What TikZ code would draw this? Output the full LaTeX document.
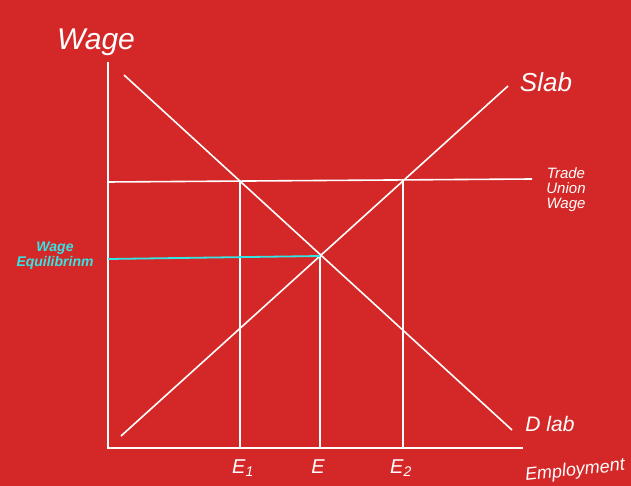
\documentclass[tikz,border=0pt]{standalone}
\usepackage{fontspec}
\setmainfont{Liberation Sans}
\definecolor{bg}{HTML}{D42828}
\definecolor{eqc}{HTML}{33E5E5}
\tikzset{
  wl/.style={draw=white, line width=1.6pt},
  cl/.style={draw=eqc, line width=1.8pt},
  lbl/.style={text=white, font=\itshape, inner sep=0pt},
}
\begin{document}
\begin{tikzpicture}[x=1pt,y=-1pt]
\fill[bg] (0,0) rectangle (631,486);
\useasboundingbox (0,0) rectangle (631,486);
% axes
\coordinate (ytop) at (108,62);
\coordinate (orig) at (108,448);
\coordinate (xend) at (523,448);
\draw[wl] (ytop) -- (orig) -- (xend);
% demand
\coordinate (d1) at (124,75);
\coordinate (d2) at (512,430);
\draw[wl] (d1) -- (d2);
% supply
\coordinate (s1) at (121,436);
\coordinate (s2) at (508,86);
\draw[wl] (s1) -- (s2);
% trade union wage
\coordinate (tu1) at (108,182);
\coordinate (tu2) at (532,179);
\draw[wl] (tu1) -- (tu2);
% verticals
\coordinate (e1t) at (240,181);
\coordinate (e1b) at (240,448);
\coordinate (et) at (320,256);
\coordinate (eb) at (320,448);
\coordinate (e2t) at (403,180);
\coordinate (e2b) at (403,448);
\draw[wl] (e1t) -- (e1b);
\draw[wl] (et) -- (eb);
\draw[wl] (e2t) -- (e2b);
% equilibrium wage
\coordinate (w1) at (108,259);
\draw[cl] (w1) -- (et);
% labels
\node[lbl, font=\itshape\fontsize{30}{30}\selectfont] (wage) at (96,42) {Wage};
\node[lbl, font=\itshape\fontsize{26}{26}\selectfont] (slab) at (546,82) {Slab};
\node[lbl, font=\itshape\fontsize{15}{16}\selectfont, align=center] (tuw) at (566,190) {Trade\\[-1pt]Union\\[-1pt]Wage};
\node[lbl, text=eqc, font=\bfseries\itshape\fontsize{14}{15}\selectfont, align=center] (weq) at (55,256) {Wage\\Equilibrinm};
\node[lbl, font=\itshape\fontsize{21}{21}\selectfont] (dlab) at (550,424) {D lab};
\node[lbl, font=\itshape\fontsize{18}{18}\selectfont, rotate=6] (empl) at (575,471) {Employment};
\node[lbl, font=\itshape\fontsize{20}{20}\selectfont] (le1) at (243,468) {E\textsubscript{1}};
\node[lbl, font=\itshape\fontsize{20}{20}\selectfont] (le) at (318,467) {E};
\node[lbl, font=\itshape\fontsize{20}{20}\selectfont] (le2) at (401,468) {E\textsubscript{2}};
\end{tikzpicture}
\end{document}
